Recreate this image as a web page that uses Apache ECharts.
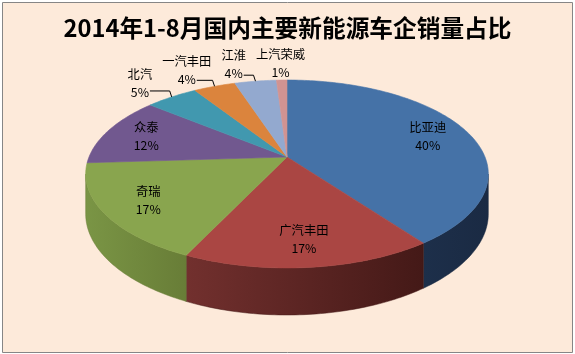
<!DOCTYPE html>
<html>
<head>
<meta charset="utf-8">
<script src="https://cdn.jsdelivr.net/npm/echarts@6/dist/echarts.min.js"></script>
<style>
  html, body { margin: 0; padding: 0; background: #fff; }
  #main { width: 575px; height: 354px; }
</style>
</head>
<body>
<div id="main"></div>
<script>
var titleText = '2014年1-8月国内主要新能源车企销量占比';
var makers = ['比亚迪', '广汽丰田', '奇瑞', '众泰', '北汽', '一汽丰田', '江淮', '上汽荣威'];
var shares = [40, 17, 17, 12, 5, 4, 4, 1];

var topColors = ['#4572a7', '#aa4643', '#89a54e', '#71588f', '#4198af', '#db843d', '#93a9cf', '#d19392'];
var sideColors = [
    ['#1d2f4a', '#1a2a43'],
    ['#72302e', '#441917'],
    ['#7a9545', '#687d37'],
    ['#4a395e', '#3e304f'],
    ['#2b6474', '#255663'],
    ['#925727', '#7c4a21'],
    ['#607089', '#536178'],
    ['#8a6160', '#755251']
];

// 3d pie look (excel style)
var pie = { cx: 287, cy: 157, rx: 198, ry: 90.9, persp: 0.181, depth: 38.5 };
var labelFont = '"Noto Sans CJK SC", "Noto Sans", sans-serif';

function proj(theta, r, h) {
    var c = Math.sin(theta) * r;
    var s = -Math.cos(theta) * r;
    var w = 1 / (1 - pie.persp * s);
    return [pie.cx + pie.rx * c * w, pie.cy + pie.ry * s * w + h * w];
}

var total = shares.reduce(function (a, b) { return a + b; }, 0);
var starts = [];
var acc = 0;
for (var i = 0; i < shares.length; i++) {
    starts.push(acc / total * Math.PI * 2);
    acc += shares[i];
}

// label spots, small slices outside with a simple push to the left
var labelPos = [];
for (var i = 0; i < shares.length; i++) {
    var mid = starts[i] + shares[i] / total * Math.PI;
    var inside = shares[i] >= 10;
    labelPos.push({ inside: inside, p: proj(mid, inside ? 0.78 : 1.27, 0), edge: proj(mid, 1, 0) });
}
var prevLeft = null;
for (var i = shares.length - 1; i >= 0; i--) {
    var lp = labelPos[i];
    if (lp.inside) continue;
    var wdt = makers[i].length * 12.3;
    if (prevLeft !== null && lp.p[0] + wdt / 2 > prevLeft - 10) {
        lp.p[0] = prevLeft - 10 - wdt / 2;
    }
    prevLeft = lp.p[0] - wdt / 2;
}

function renderSlice(params, api) {
    var i = params.dataIndex;
    var a0 = starts[i];
    var a1 = a0 + api.value(0) / total * Math.PI * 2;
    var children = [];
    var step = Math.PI / 180;

    // side wall (front half only)
    var lo = Math.PI / 2 + Math.asin(pie.persp);
    var hi = Math.PI * 1.5 - Math.asin(pie.persp);
    var s0 = Math.max(a0, lo), s1 = Math.min(a1, hi);
    if (s1 > s0) {
        var upper = [], lower = [];
        for (var t = s0; t < s1; t += step) {
            upper.push(proj(t, 1, 0));
            lower.push(proj(t, 1, pie.depth));
        }
        upper.push(proj(s1, 1, 0));
        lower.push(proj(s1, 1, pie.depth));
        children.push({
            type: 'polygon',
            z2: 1,
            shape: { points: upper.concat(lower.reverse()) },
            style: {
                fill: new echarts.graphic.LinearGradient(0, 0, 1, 0, [
                    { offset: 0, color: sideColors[i][0] },
                    { offset: 1, color: sideColors[i][1] }
                ]),
                stroke: sideColors[i][1],
                lineWidth: 0.5
            }
        });
    }

    // top face
    var pts = [[pie.cx, pie.cy]];
    for (var t = a0; t < a1; t += step) pts.push(proj(t, 1, 0));
    pts.push(proj(a1, 1, 0));
    children.push({
        type: 'polygon',
        z2: 2,
        shape: { points: pts },
        style: { fill: topColors[i], stroke: topColors[i], lineWidth: 0.6 }
    });

    var lp = labelPos[i];
    var name = makers[i];
    var pct = api.value(0) + '%';
    if (!lp.inside && Math.abs(lp.p[0] - lp.edge[0]) > 8) {
        var e = lp.edge;
        var b = [e[0] - 2, e[1] - 6];
        var right = lp.p[0] + pct.length * 4 + 2;
        var c = [Math.min(right, b[0] - 5), b[1]];
        children.push({
            type: 'polyline',
            z2: 3,
            shape: { points: [e, b, c] },
            style: { stroke: '#000', lineWidth: 1, fill: null }
        });
    }
    children.push({
        type: 'text',
        z2: 4,
        x: lp.p[0],
        y: lp.p[1],
        style: {
            text: name + '\n' + pct,
            fill: '#000',
            font: '12.3px ' + labelFont,
            lineHeight: 18,
            align: 'center',
            verticalAlign: 'middle'
        }
    });

    return { type: 'group', children: children };
}

var chart = echarts.init(document.getElementById('main'));

var option = {
    backgroundColor: '#ffffff',
    animation: false,
    title: {
        text: titleText,
        left: 'center',
        top: 11,
        textStyle: {
            fontSize: 23.7,
            fontWeight: 'bold',
            color: '#000',
            fontFamily: labelFont
        }
    },
    graphic: [{
        type: 'rect',
        z: -1,
        silent: true,
        shape: { x: 2.5, y: 2.5, width: 570, height: 350 },
        style: { fill: '#fdeada', stroke: '#868686', lineWidth: 1 }
    }],
    series: [{
        type: 'custom',
        coordinateSystem: 'none',
        renderItem: renderSlice,
        data: shares.map(function (v) { return [v]; })
    }]
};

chart.setOption(option);
</script>
</body>
</html>
